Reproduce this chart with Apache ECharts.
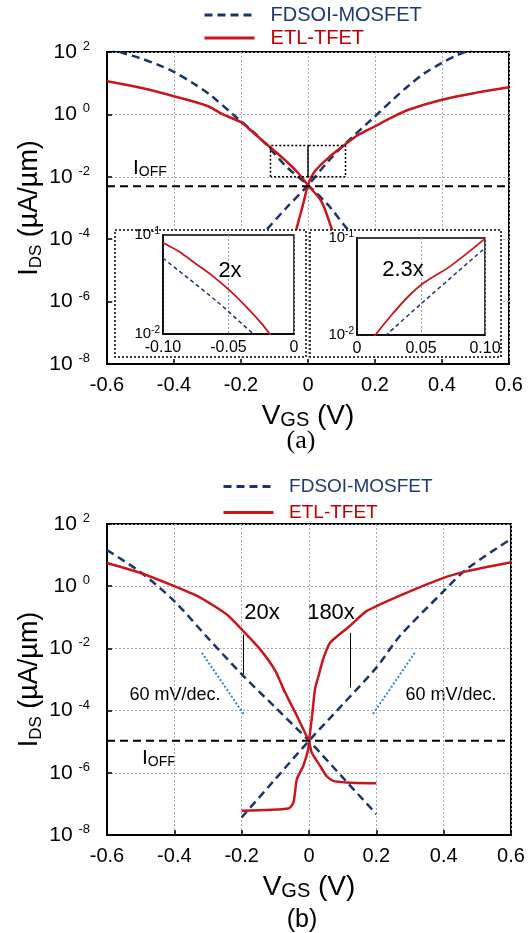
<!DOCTYPE html>
<html><head><meta charset="utf-8">
<script src="https://cdn.jsdelivr.net/npm/echarts@6/dist/echarts.min.js"></script>
<style>html,body{margin:0;padding:0;background:#fff}#c{width:531px;height:933px}</style>
</head><body><div id="c"></div>
<script>
// ---------------- DATA ----------------
// Panel (a)  VGS (V) and IDS (uA/um)
const A_FD_P_X = [-0.6,-0.55,-0.5,-0.45,-0.4,-0.343,-0.293,-0.224,-0.164,-0.124,-0.065,0,0.06,0.115,0.2];
const A_FD_P_I = [135,91,63,40,23,10,4.3,1.0,0.28,0.107,0.0214,0.0054,1.26e-3,2.3e-4,2.5e-5];
const A_FD_N_X = [-0.2,-0.124,-0.065,0,0.06,0.11,0.2,0.259,0.3,0.348,0.4,0.44,0.468,0.6];
const A_FD_N_I = [2.5e-5,2.0e-4,1.0e-3,5.4e-3,0.031,0.112,0.87,3.4,8.3,21,45,75,100,316];
const A_ETL_P_X = [-0.6,-0.5,-0.4,-0.3,-0.254,-0.2,-0.164,-0.124,-0.09,-0.065,-0.03,0,0.04,0.07,0.1];
const A_ETL_P_I = [11.5,7.1,3.8,1.86,1.0,0.56,0.263,0.112,0.055,0.0316,0.0135,5.4e-3,1.62e-3,2.3e-4,3.2e-5];
const A_ETL_N_X = [-0.06,-0.035,-0.015,0,0.02,0.06,0.11,0.15,0.2,0.25,0.3,0.4,0.5,0.6];
const A_ETL_N_I = [1e-5,2.0e-4,1.26e-3,5.4e-3,0.0148,0.0398,0.107,0.22,0.417,0.8,1.41,2.95,4.9,7.4];
const A_IOFF = 5.0e-3;
const A_ZOOM_X = [-0.112, 0, 0.112];
const A_ZOOM_I = [0.01, 0.1];
// insets of (a)
const IL_ETL_X = [-0.1,-0.0875,-0.075,-0.0625,-0.05,-0.0375,-0.025,-0.0185,-0.01];
const IL_ETL_I = [0.0836,0.0676,0.0513,0.0389,0.0282,0.0195,0.0129,0.01,0.0072];
const IL_FD_X = [-0.1,-0.059,-0.031,-0.02];
const IL_FD_I = [0.0582,0.0214,0.01,0.0076];
const IR_ETL_X = [0.008,0.0143,0.026,0.0395,0.052,0.073,0.1];
const IR_ETL_I = [0.0076,0.01,0.0155,0.0245,0.0343,0.0513,0.0984];
const IR_FD_X = [0.014,0.0228,0.052,0.1];
const IR_FD_I = [0.0079,0.01,0.0221,0.0789];
const IL_ARROW = [-0.059, 0.0204, 0.0285];
const IR_ARROW = [0.0395, 0.0166, 0.0245];
const INSET_MINOR = [0.02,0.03,0.04,0.05,0.06,0.07,0.08,0.09];
// Panel (b)
const B_FD_P_X = [-0.6,-0.5,-0.4,-0.3,-0.2,-0.1,0,0.1,0.2];
const B_FD_P_I = [14.5,2.8,0.33,0.0214,1.48e-3,1.26e-4,1.07e-5,7.1e-7,4.7e-8];
const B_FD_N_X = [-0.2,-0.1,0,0.1,0.2,0.27,0.4,0.467,0.6];
const B_FD_N_I = [3.7e-8,6.3e-7,1.07e-5,1.58e-4,2.4e-3,0.0251,0.69,3.47,33];
const B_ETL_P_X = [-0.6,-0.506,-0.4,-0.323,-0.244,-0.2,-0.145,-0.1,-0.071,-0.036,-0.007,0,0.008,0.033,0.052,0.072,0.112,0.2];
const B_ETL_P_I = [5.6,2.8,1.0,0.43,0.123,0.041,9.3e-3,1.9e-3,3.8e-4,6.8e-5,1.5e-5,1.07e-5,4.5e-6,1.66e-6,7.9e-7,5.5e-7,4.9e-7,4.6e-7];
const B_ETL_N_X = [-0.2,-0.061,-0.046,-0.036,-0.017,-0.002,0,0.008,0.018,0.028,0.042,0.062,0.087,0.121,0.171,0.27,0.4,0.467,0.6];
const B_ETL_N_I = [6.0e-8,7.1e-8,1.12e-7,6.3e-7,1.66e-6,5.8e-6,1.07e-5,5.2e-5,5.0e-4,1.26e-3,4.5e-3,0.0151,0.0263,0.0525,0.158,0.5,1.86,3.0,5.9];
const B_IOFF = 1.07e-5;
const B_SLOPE_L = [[-0.318, 7.2e-3], [-0.193, 7.4e-5]];
const B_SLOPE_R = [[0.314, 7.2e-3], [0.189, 7.5e-5]];
const B_ARROW_20 = [-0.195, 1.48e-3, 0.028];
const B_ARROW_180 = [0.124, 5.5e-4, 0.0316];
// axes
const X_MIN = -0.6, X_MAX = 0.6, X_STEP = 0.2;
const Y_MIN = 1e-8, Y_MAX = 1e2;
const LEGEND_NAMES = ['FDSOI-MOSFET', 'ETL-TFET'];

// ---------------- STYLE ----------------
const FONT = '"Liberation Sans", Arial, sans-serif';
const SERIF = '"Liberation Serif", "Times New Roman", serif';
const NAVY = '#1b3567';
const RED = '#c8161d';
const GRIDC = '#a8a8a8';
const pairs = (xs, ys) => xs.map((x, i) => [x, ys[i]]);

function mainX(gi) {
  return {
    gridIndex: gi, type: 'value', min: X_MIN, max: X_MAX, interval: X_STEP,
    axisLine: {onZero: false, lineStyle: {color: '#000', width: 2}},
    axisTick: {inside: true, length: 5, lineStyle: {color: '#000', width: 1.5}},
    splitLine: {show: true, lineStyle: {color: GRIDC, type: [2, 2], width: 1}},
    axisLabel: {margin: 11, fontSize: 20, fontFamily: FONT, color: '#000',
      formatter: v => Math.abs(v) < 1e-9 ? '0' : v.toFixed(1)},
    name: '{v|V}{s|GS}{v| (V)}', nameLocation: 'middle', nameGap: 38, nameMoveOverlap: false,
    nameTextStyle: {rich: {
      v: {fontSize: 28, fontFamily: FONT, color: '#000', lineHeight: 28},
      s: {fontSize: 20, fontFamily: FONT, color: '#000', lineHeight: 20, verticalAlign: 'bottom', padding: [11, 0, 0, 0]}
    }}
  };
}
function mainY(gi) {
  return {
    gridIndex: gi, type: 'log', logBase: 100, min: Y_MIN, max: Y_MAX,
    axisLine: {onZero: false, lineStyle: {color: '#000', width: 2}},
    axisTick: {inside: true, length: 5, lineStyle: {color: '#000', width: 1.5}},
    splitLine: {show: true, lineStyle: {color: GRIDC, type: [2, 2], width: 1}},
    axisLabel: {margin: 17,
      formatter: v => '{b|10 }{s|' + Math.round(Math.log10(v)) + '}',
      rich: {
        b: {fontSize: 21, fontFamily: FONT, color: '#000', lineHeight: 24},
        s: {fontSize: 13, fontFamily: FONT, color: '#000', lineHeight: 13, verticalAlign: 'top'}
      }},
    name: '{i|I}{s|DS}{i| (µA/µm)}', nameLocation: 'middle', nameRotate: 90, nameGap: 62, nameMoveOverlap: false,
    nameTextStyle: {rich: {
      i: {fontSize: 27, fontFamily: FONT, color: '#000', lineHeight: 30},
      s: {fontSize: 17, fontFamily: FONT, color: '#000', lineHeight: 17, verticalAlign: 'bottom', padding: [20, 0, 0, 0]}
    }}
  };
}
function insetX(gi, mn, mx) {
  return {
    gridIndex: gi, type: 'value', min: mn, max: mx, interval: 0.05, zlevel: 1, z: 2,
    axisLine: {onZero: false, lineStyle: {color: '#000', width: 1.5}},
    axisTick: {show: false},
    splitLine: {show: true, lineStyle: {color: '#9a9a9a', type: [2, 2], width: 1}},
    axisLabel: {margin: 6, fontSize: 16, fontFamily: FONT, color: '#000',
      formatter: v => Math.abs(v) < 1e-9 ? '0' : v.toFixed(2)}
  };
}
function insetY(gi) {
  return {
    gridIndex: gi, type: 'log', logBase: 10, min: 0.01, max: 0.1, zlevel: 1, z: 2,
    axisLine: {onZero: false, lineStyle: {color: '#000', width: 1.5}},
    axisTick: {show: false},
    splitLine: {show: false},
    axisLabel: {margin: 3,
      formatter: v => '{b|10}{s|' + Math.round(Math.log10(v)) + '}',
      rich: {
        b: {fontSize: 15, fontFamily: FONT, color: '#000', lineHeight: 17},
        s: {fontSize: 10, fontFamily: FONT, color: '#000', lineHeight: 10, verticalAlign: 'top'}
      }}
  };
}
function curve(name, xi, yi, data, color, dashed, width, extra) {
  return Object.assign({
    type: 'line', name, xAxisIndex: xi, yAxisIndex: yi, data,
    symbol: 'none', showSymbol: false, smooth: 0.3,
    lineStyle: {color, width, type: dashed ? [8, 5] : 'solid', join: 'round'},
    itemStyle: {color}, silent: true
  }, extra || {});
}
function arrowLine(arr) {
  return [{coord: [arr[0], arr[1]]}, {coord: [arr[0], arr[2]]}];
}
const arrowMark = list => ({
  silent: true, symbol: ['none', 'arrow'], symbolSize: [0, 7], animation: false,
  lineStyle: {color: '#000', width: 1, type: 'solid'}, label: {show: false},
  data: list.map(arrowLine)
});
const boxA = (x0, x1) => [[x0, A_ZOOM_I[0]], [x0, A_ZOOM_I[1]], [x1, A_ZOOM_I[1]], [x1, A_ZOOM_I[0]], [x0, A_ZOOM_I[0]]];

const series = [
  // ---- (a)
  curve('FDSOI-MOSFET', 0, 0, pairs(A_FD_P_X, A_FD_P_I), NAVY, true, 2.5),
  curve('FDSOI-MOSFET', 0, 0, pairs(A_FD_N_X, A_FD_N_I), NAVY, true, 2.5),
  curve('ETL-TFET', 0, 0, pairs(A_ETL_P_X, A_ETL_P_I), RED, false, 2.5),
  curve('ETL-TFET', 0, 0, pairs(A_ETL_N_X, A_ETL_N_I), RED, false, 2.5),
  {type: 'line', name: 'ioffA', xAxisIndex: 0, yAxisIndex: 0, symbol: 'none', silent: true,
   data: [[X_MIN, A_IOFF], [X_MAX, A_IOFF]], lineStyle: {color: '#000', width: 2, type: [8, 5]}},
  {type: 'line', name: 'zoomL', xAxisIndex: 0, yAxisIndex: 0, symbol: 'none', silent: true,
   data: boxA(A_ZOOM_X[0], A_ZOOM_X[1]), lineStyle: {color: '#000', width: 1.5, type: [2, 2]}},
  {type: 'line', name: 'zoomR', xAxisIndex: 0, yAxisIndex: 0, symbol: 'none', silent: true,
   data: boxA(A_ZOOM_X[1], A_ZOOM_X[2]), lineStyle: {color: '#000', width: 1.5, type: [2, 2]}},
  // ---- insets
  {type: 'line', name: 'minL', xAxisIndex: 2, yAxisIndex: 2, data: [], zlevel: 1, z: 3, silent: true,
   markLine: {silent: true, symbol: 'none', label: {show: false}, animation: false,
     lineStyle: {color: '#cfcfcf', width: 1, type: 'solid'}, data: INSET_MINOR.map(v => ({yAxis: v}))}},
  {type: 'line', name: 'minR', xAxisIndex: 3, yAxisIndex: 3, data: [], zlevel: 1, z: 3, silent: true,
   markLine: {silent: true, symbol: 'none', label: {show: false}, animation: false,
     lineStyle: {color: '#cfcfcf', width: 1, type: 'solid'}, data: INSET_MINOR.map(v => ({yAxis: v}))}},
  curve('inL_fd', 2, 2, pairs(IL_FD_X, IL_FD_I), NAVY, true, 1.5, {zlevel: 1, z: 4, lineStyle: {color: NAVY, width: 1.5, type: [4, 3]}, markLine: arrowMark([IL_ARROW])}),
  curve('inL_etl', 2, 2, pairs(IL_ETL_X, IL_ETL_I), RED, false, 1.8, {zlevel: 1, z: 4}),
  curve('inR_fd', 3, 3, pairs(IR_FD_X, IR_FD_I), NAVY, true, 1.5, {zlevel: 1, z: 4, lineStyle: {color: NAVY, width: 1.5, type: [4, 3]}, markLine: arrowMark([IR_ARROW])}),
  curve('inR_etl', 3, 3, pairs(IR_ETL_X, IR_ETL_I), RED, false, 1.8, {zlevel: 1, z: 4}),
  // ---- (b)
  curve('FDSOI-MOSFET', 1, 1, pairs(B_FD_P_X, B_FD_P_I), NAVY, true, 2.5),
  curve('FDSOI-MOSFET', 1, 1, pairs(B_FD_N_X, B_FD_N_I), NAVY, true, 2.5),
  curve('ETL-TFET', 1, 1, pairs(B_ETL_P_X, B_ETL_P_I), RED, false, 2.5, {smooth: 0.2}),
  curve('ETL-TFET', 1, 1, pairs(B_ETL_N_X, B_ETL_N_I), RED, false, 2.5, {smooth: 0.2}),
  {type: 'line', name: 'ioffB', xAxisIndex: 1, yAxisIndex: 1, symbol: 'none', silent: true,
   data: [[X_MIN, B_IOFF], [X_MAX, B_IOFF]], lineStyle: {color: '#000', width: 2, type: [8, 5]},
   markLine: arrowMark([B_ARROW_20, B_ARROW_180])},
  {type: 'line', name: 'slopeL', xAxisIndex: 1, yAxisIndex: 1, symbol: 'none', silent: true,
   data: B_SLOPE_L, lineStyle: {color: '#2a8ad8', width: 2, type: [2, 2]}},
  {type: 'line', name: 'slopeR', xAxisIndex: 1, yAxisIndex: 1, symbol: 'none', silent: true,
   data: B_SLOPE_R, lineStyle: {color: '#2a8ad8', width: 2, type: [2, 2]}}
];

function legend(left, top, gap, size) {
  return {
    orient: 'vertical', left, top, padding: 5, itemGap: gap, itemWidth: 50, itemHeight: 14,
    selectedMode: false,
    formatter: n => '  ' + n,
    itemStyle: {opacity: 0},
    lineStyle: {width: 3},
    textStyle: {fontSize: size, fontFamily: FONT},
    data: [
      {name: LEGEND_NAMES[0], textStyle: {color: '#1f3a6e'}},
      {name: LEGEND_NAMES[1], textStyle: {color: '#c00000'}}
    ]
  };
}

function txt(x, y, text, size, extra) {
  return Object.assign({type: 'text', silent: true,
    style: {x, y, text, fontSize: size, fontFamily: FONT, fill: '#000', align: 'center', verticalAlign: 'middle'}}, extra || {});
}
function ioffText(x, y) {
  return {type: 'text', silent: true, style: {x, y, text: '{i|I}{s|OFF}', align: 'left', verticalAlign: 'middle',
    rich: {
      i: {fontSize: 21, fontFamily: FONT, fill: '#000', lineHeight: 22},
      s: {fontSize: 14, fontFamily: FONT, fill: '#000', lineHeight: 14, verticalAlign: 'bottom', padding: [14, 0, 0, 0]}
    }}};
}

const G = {show: true, borderColor: '#000', outerBoundsMode: 'none', containLabel: false};
const option = {
  animation: false,
  backgroundColor: '#fff',
  legend: [legend(198, 0, 3, 20), legend(217, 472, 7, 19)],
  grid: [
    Object.assign({left: 107, top: 52, width: 402, height: 312, borderWidth: 2, backgroundColor: 'transparent'}, G),
    Object.assign({left: 107, top: 524, width: 404, height: 311, borderWidth: 2, backgroundColor: 'transparent'}, G),
    Object.assign({left: 163, top: 235, width: 131, height: 99, borderWidth: 1.5, backgroundColor: '#fff', zlevel: 1, z: 1}, G),
    Object.assign({left: 357, top: 238, width: 128, height: 97, borderWidth: 1.5, backgroundColor: '#fff', zlevel: 1, z: 1}, G)
  ],
  xAxis: [mainX(0), mainX(1), insetX(2, -0.1, 0), insetX(3, 0, 0.1)],
  yAxis: [mainY(0), mainY(1), insetY(2), insetY(3)],
  series,
  graphic: [
    {type: 'rect', zlevel: 1, z: 0, silent: true, shape: {x: 115, y: 230, width: 191, height: 127},
     style: {fill: '#fff', stroke: '#000', lineWidth: 1.5, lineDash: [2, 2]}},
    {type: 'rect', zlevel: 1, z: 0, silent: true, shape: {x: 310, y: 230, width: 191, height: 127},
     style: {fill: '#fff', stroke: '#000', lineWidth: 1.5, lineDash: [2, 2]}},
    Object.assign(txt(230, 271, '2x', 22), {zlevel: 1, z: 10}),
    Object.assign(txt(403, 270, '2.3x', 22), {zlevel: 1, z: 10}),
    ioffText(133, 168),
    ioffText(142, 758),
    txt(262, 613, '20x', 22),
    txt(331, 613, '180x', 22),
    txt(175, 695, '60 mV/dec.', 18),
    txt(451, 695, '60 mV/dec.', 18),
    {type: 'text', silent: true, style: {x: 301, y: 441, text: '(a)', fontSize: 26, fontFamily: SERIF, fill: '#000', align: 'center', verticalAlign: 'middle'}},
    txt(302, 920, '(b)', 25)
  ]
};
const chart = echarts.init(document.getElementById('c'));
chart.setOption(option);
</script>
</body></html>
